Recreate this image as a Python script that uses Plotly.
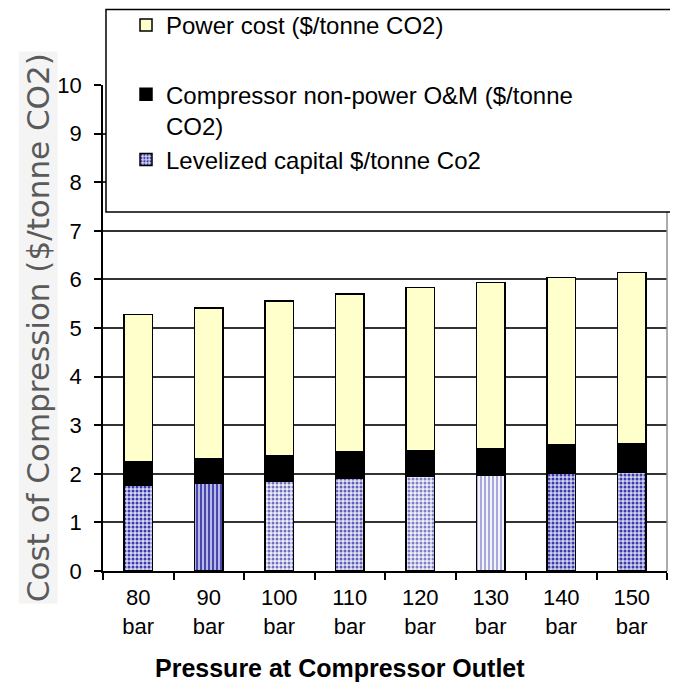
import plotly.graph_objects as go

categories = ["80<br>bar", "90<br>bar", "100<br>bar", "110<br>bar",
              "120<br>bar", "130<br>bar", "140<br>bar", "150<br>bar"]
capital = [1.77, 1.81, 1.84, 1.91, 1.94, 1.98, 2.01, 2.04]
om = [0.47, 0.50, 0.54, 0.54, 0.54, 0.54, 0.58, 0.58]
power = [3.04, 3.10, 3.18, 3.25, 3.35, 3.42, 3.45, 3.52]

cap_shapes = [".", "|", ".", ".", ".", "|", ".", "."]
cap_fg = ["#3a3aa8", "#3a3aa8", "#7070c0", "#6060b8", "#8080c8", "#a0a0d8", "#3a3aa8", "#3a3aa8"]
cap_bg = ["#d8d8f4", "#b8b8e8", "#eeeefa", "#e4e4f6", "#f0f0fa", "#f4f4fc", "#d0d0f0", "#d0d0f0"]

FONT = "Liberation Sans, Arial, sans-serif"

fig = go.Figure()
fig.add_trace(go.Bar(
    x=categories, y=capital, name="Levelized capital $/tonne Co2",
    legendgroup="b", legendrank=3,
    marker=dict(color="#b0b0e0", line=dict(color="#000000", width=1.5),
                pattern=dict(shape=cap_shapes, fgcolor=cap_fg, bgcolor=cap_bg,
                             size=4, solidity=0.45, fillmode="replace")),
    width=0.4,
))
fig.add_trace(go.Bar(
    x=categories, y=om, name="Compressor non-power O&M ($/tonne<br>CO2)",
    legendgroup="b", legendrank=2,
    marker=dict(color="#000000", line=dict(color="#000000", width=1.5)),
    width=0.4,
))
fig.add_trace(go.Bar(
    x=categories, y=power, name="Power cost ($/tonne CO2)",
    legendgroup="a", legendrank=1,
    marker=dict(color="#ffffcc", line=dict(color="#000000", width=1.5)),
    width=0.4,
))

# the page body adds an 8px offset, so the figure is 8px smaller on each axis
fig.update_layout(
    width=670, height=679,
    margin=dict(l=95, r=11, t=77, b=116, autoexpand=False),
    barmode="stack",
    plot_bgcolor="#ffffff", paper_bgcolor="#ffffff",
    font=dict(family=FONT, size=22, color="#000000"),
    showlegend=True,
    legend=dict(
        x=0.0408, y=1.169, xanchor="left", yanchor="top",
        bgcolor="rgba(0,0,0,0)", borderwidth=0,
        traceorder="grouped", tracegroupgap=35, valign="top",
        font=dict(family=FONT, size=24, color="#000000"),
    ),
    xaxis=dict(
        type="category", tickson="boundaries", ticks="outside", ticklen=7,
        tickcolor="#000000", tickwidth=1.5, automargin=False,
        showline=True, linecolor="#000000", linewidth=1.5,
        showgrid=False, ticklabelstandoff=6,
        tickfont=dict(family=FONT, size=22, color="#000000"),
    ),
    yaxis=dict(
        range=[0, 10], tickmode="linear", tick0=0, dtick=1, automargin=False,
        ticks="outside", ticklen=7, tickcolor="#000000", tickwidth=1.5,
        showline=True, linecolor="#000000", linewidth=1.5,
        showgrid=True, gridcolor="#333333", gridwidth=1.5,
        zeroline=False, ticklabelstandoff=8,
        tickfont=dict(family=FONT, size=22, color="#000000"),
    ),
    annotations=[
        dict(
            text="Cost of Compression ($/tonne CO2)",
            xref="paper", yref="paper", x=-0.115, y=0.5,
            xanchor="center", yanchor="middle", textangle=-90, showarrow=False,
            font=dict(family="DejaVu Sans, Verdana, sans-serif", size=31, color="#5a5a5a"),
            bgcolor="#f4f4f4",
        ),
        dict(
            text="<b>Pressure at Compressor Outlet</b>",
            xref="paper", yref="paper", x=0.42, y=-0.1996,
            xanchor="center", yanchor="middle", showarrow=False,
            font=dict(family=FONT, size=25, color="#000000"),
        ),
    ],
    shapes=[
        # right border of plot area
        dict(type="line", xref="paper", yref="paper", x0=1, x1=1, y0=0, y1=1,
             line=dict(color="#909090", width=1.5), layer="above"),
        # legend frame
        dict(type="rect", xref="paper", yref="paper",
             x0=0.0053, x1=1.03, y0=0.7387, y1=1.1555,
             fillcolor="#ffffff", line=dict(color="#000000", width=1.5), layer="above"),
    ],
)

fig.write_html("out.html")
